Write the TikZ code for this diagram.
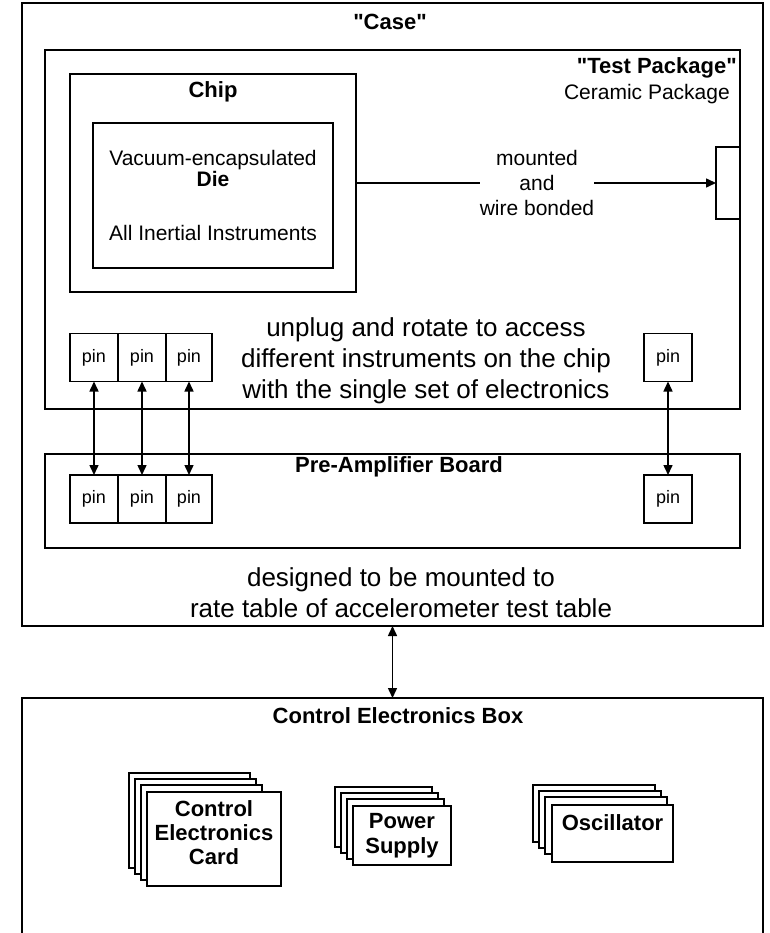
\documentclass[tikz,border=0pt]{standalone}
\usepackage{fontspec}
\setmainfont{Liberation Sans}[Ligatures=TeXOff]
\usetikzlibrary{arrows.meta}

\tikzset{
  box/.style={draw, line width=1.5pt, inner sep=0pt, outer sep=0pt},
  pinbox/.style={box, minimum width=48, minimum height=48, font=\fontsize{18}{20}\selectfont},
  card/.style={box, fill=white, align=center, font=\fontsize{22}{25}\selectfont\bfseries},
  title/.style={inner sep=0pt, align=center, font=\fontsize{22}{25}\selectfont\bfseries},
  small/.style={inner sep=0pt, align=center, font=\fontsize{21}{25}\selectfont},
  big/.style={inner sep=0pt, align=center, font=\fontsize{26}{31}\selectfont},
  tip/.tip={Triangle[length=10pt,width=9pt]},
  link/.style={line width=1.5pt, {tip}-{tip}},
}

\begin{document}
\begin{tikzpicture}[x=1pt, y=-1pt]
\useasboundingbox (0,0) rectangle (769,933);
\clip (0,0) rectangle (769,933);

% case and its contents
\node[box, minimum width=741, minimum height=623] (case) at (392.5,314.5) {};
\node[title] (caselbl) at (390,22) {"Case"};
\node[box, minimum width=695, minimum height=359] (pkg) at (392.5,229.5) {};
\node[title, anchor=east] (pkglbl) at (737,68) {"Test Package"};
\node[small, anchor=east] (ceramic) at (730,94) {Ceramic Package};

\node[box, minimum width=286, minimum height=218] (chip) at (213,183) {};
\node[title] (chiplbl) at (213,92) {Chip};
\node[box, small, minimum width=240, minimum height=145, font=\fontsize{21}{21}\selectfont] (die) at (213,195.5)
  {Vacuum-encapsulated\\\textbf{Die}\\[33pt]All Inertial Instruments};

\node[box, minimum width=24, minimum height=72] (bond) at (728,183) {};
\node[small] (bondlbl) at (537,183) {mounted\\and\\wire bonded};
\draw[line width=1.5pt] (chip.east) -- (bondlbl.west);
\draw[line width=1.5pt, -{tip}] (bondlbl.east) -- (bond.west);

\node[big] (unplug) at (426,361) {unplug and rotate to access\\different instruments on the chip\\with the single set of electronics};

% pins
\node[pinbox] (tp1) at (94,357.5) {pin};
\node[pinbox] (tp2) at (142,357.5) {pin};
\node[pinbox, minimum width=46] (tp3) at (189,357.5) {pin};
\node[pinbox] (tp4) at (668,357.5) {pin};

\node[box, minimum width=695, minimum height=94] (preamp) at (392.5,501) {};
\node[title] (preamplbl) at (399,467) {Pre-Amplifier Board};
\node[pinbox] (bp1) at (94,499) {pin};
\node[pinbox] (bp2) at (142,499) {pin};
\node[pinbox, minimum width=46] (bp3) at (189,499) {pin};
\node[pinbox] (bp4) at (668,499) {pin};

\foreach \n in {1,2,3,4}
  \draw[link] (tp\n.south) -- (bp\n.north);

\node[big] (mountnote) at (401,593) {designed to be mounted to\\rate table of accelerometer test table};

% control electronics
\node[box, minimum width=741, minimum height=260] (ctrl) at (392.5,828) {};
\node[title] (ctrllbl) at (398,716) {Control Electronics Box};
\draw[link] (case.south) -- (ctrl.north);

\foreach \i in {0,1,2}
  \draw[box, fill=white] (129+6*\i,773+6*\i) rectangle ++(121,95);
\node[card, minimum width=134, minimum height=94] (cecard) at (214,839) {};
\node[title] (cecardlbl) at (214,833) {Control\\[-1pt]Electronics\\[-1pt]Card};

\foreach \i in {0,1,2}
  \draw[box, fill=white] (335+6*\i,787+6*\i) rectangle ++(97,60);
\node[card, minimum width=98, minimum height=59] (power) at (402,835.5) {Power\\Supply};

\foreach \i in {0,1,2}
  \draw[box, fill=white] (533+6*\i,785+6*\i) rectangle ++(122,57);
\node[card, minimum width=121, minimum height=57] (osc) at (612.5,833.5) {};
\node[title] (osclbl) at (612.5,823) {Oscillator};
\end{tikzpicture}
\end{document}
